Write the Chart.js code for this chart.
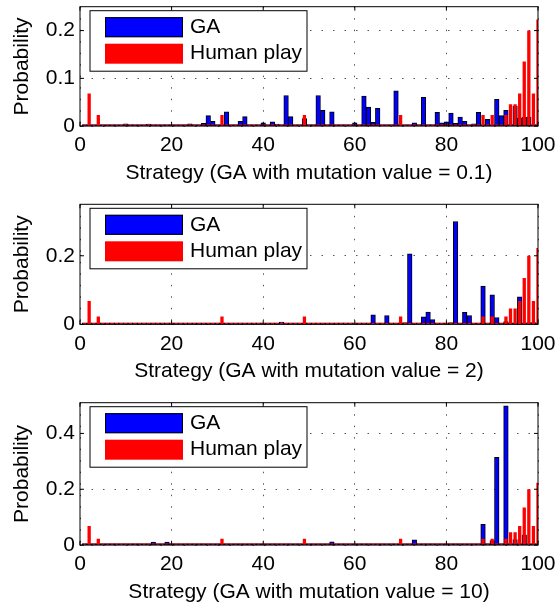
<!DOCTYPE html>
<html lang="en">
<head>
<meta charset="UTF-8">
<title>Strategy distributions: GA vs human play</title>
<script src="https://cdn.jsdelivr.net/npm/chart.js"></script>
<style>
  html, body { margin: 0; padding: 0; background: #fff; }
  #wrap { position: relative; width: 555px; height: 605px; overflow: hidden; }
  #wrap canvas { position: absolute; left: 0; }
</style>
</head>
<body>
<div id="wrap">
  <canvas id="chart01" width="555" height="186" style="top:0px"></canvas>
  <canvas id="chart2" width="555" height="198" style="top:186px"></canvas>
  <canvas id="chart10" width="555" height="221" style="top:384px"></canvas>
</div>
<script>
// strategies 1..100 along x
const strategies = Array.from({ length: 100 }, (_, i) => i + 1);
const xTicks = [0, 20, 40, 60, 80, 100];

// human play (same in every plot)
const humanStrat = [2, 4, 31, 49, 70, 88, 90, 93, 94, 95, 96, 97, 98, 99, 100];
const humanProb  = [0.068, 0.023, 0.023, 0.023, 0.023, 0.023, 0.023, 0.023, 0.046, 0.046, 0.068, 0.135, 0.2, 0.068, 0.223];

// GA, mutation value = 0.1
const ga01Strat = [10, 11, 15, 16, 20, 22, 24, 27, 28, 29, 32, 34, 35, 36, 40, 42, 43, 45, 46, 49,
                   52, 53, 55, 60, 62, 63, 64, 65, 69, 73, 75, 78, 79, 80, 81, 82, 83, 84, 86, 87,
                   89, 91, 92, 93, 95, 96, 97, 98];
const ga01Prob  = [0.005, 0.002, 0.004, 0.002, 0.003, 0.003, 0.005, 0.006, 0.022, 0.01, 0.03, 0.003, 0.01, 0.02, 0.007, 0.009, 0.004, 0.064, 0.02, 0.016,
                   0.064, 0.033, 0.03, 0.007, 0.063, 0.04, 0.008, 0.037, 0.074, 0.007, 0.06, 0.029, 0.007, 0.009, 0.027, 0.006, 0.019, 0.01, 0.005, 0.029,
                   0.014, 0.056, 0.022, 0.033, 0.042, 0.017, 0.019, 0.019];
const ga01YTicks = [0, 0.1, 0.2];

// GA, mutation value = 2
const ga2Strat = [34, 36, 44, 58, 64, 67, 71, 72, 75, 76, 77, 81, 82, 84, 85, 88, 90, 91, 93, 96, 98, 99];
const ga2Prob  = [0.003, 0.003, 0.007, 0.003, 0.028, 0.026, 0.005, 0.206, 0.022, 0.036, 0.014, 0.005, 0.3, 0.035, 0.026, 0.112, 0.086, 0.02, 0.008, 0.08, 0.005, 0.005];
const ga2YTicks = [0, 0.2];

// GA, mutation value = 10
const ga10Strat = [16, 19, 55, 73, 78, 85, 88, 90, 91, 93, 95, 97];
const ga10Prob  = [0.011, 0.011, 0.012, 0.019, 0.005, 0.004, 0.074, 0.016, 0.314, 0.499, 0.02, 0.037];
const ga10YTicks = [0, 0.2, 0.4];

const fontFamily = '"Liberation Sans", Arial, Helvetica, sans-serif';
Chart.defaults.font.family = fontFamily;
Chart.defaults.font.size = 21;
Chart.defaults.color = '#000';

function series(strats, probs) {
  return strategies.map(s => {
    const i = strats.indexOf(s);
    return { x: s, y: i < 0 ? 0 : probs[i] };
  });
}

// box round the axes plus inward tick marks on all four sides
const axesBox = {
  id: 'axesBox',
  afterDatasetsDraw(chart) {
    const { ctx, chartArea: a, scales: { x, y } } = chart;
    const tl = 4;
    ctx.save();
    ctx.strokeStyle = '#000';
    ctx.lineWidth = 1;
    ctx.beginPath();
    x.ticks.forEach(t => {
      const px = x.getPixelForValue(t.value);
      ctx.moveTo(px, a.bottom); ctx.lineTo(px, a.bottom - tl);
      ctx.moveTo(px, a.top); ctx.lineTo(px, a.top + tl);
    });
    y.ticks.forEach(t => {
      const py = y.getPixelForValue(t.value);
      ctx.moveTo(a.left, py); ctx.lineTo(a.left + tl, py);
      ctx.moveTo(a.right, py); ctx.lineTo(a.right - tl, py);
    });
    ctx.stroke();
    ctx.strokeRect(a.left, a.top, a.right - a.left, a.bottom - a.top);
    ctx.restore();
  }
};

// legend box in the upper left corner of the axes
const legendBox = {
  id: 'legendBox',
  afterDraw(chart) {
    const { ctx, chartArea: a } = chart;
    const bx = a.left + 10, by = a.top + 4, bw = 217, bh = 60.5;
    ctx.save();
    ctx.fillStyle = '#fff';
    ctx.fillRect(bx, by, bw, bh);
    ctx.strokeStyle = '#000';
    ctx.lineWidth = 1;
    ctx.strokeRect(bx, by, bw, bh);
    ctx.font = '21px ' + fontFamily;
    ctx.textBaseline = 'middle';
    chart.data.datasets.forEach((ds, i) => {
      const sy = by + 6.5 + i * 26.5;
      ctx.fillStyle = ds.backgroundColor;
      ctx.fillRect(bx + 15, sy, 78, 20);
      if (ds.borderWidth) {
        ctx.strokeStyle = ds.borderColor;
        ctx.strokeRect(bx + 15.5, sy + 0.5, 77, 19);
      }
      ctx.fillStyle = '#000';
      ctx.fillText(ds.label, bx + 100, sy + 10);
    });
    ctx.restore();
  }
};

function makeChart(id, gaStrat, gaProb, yMax, yTicks, xTitle, topPad, xAxisH) {
  new Chart(document.getElementById(id), {
    type: 'bar',
    data: {
      datasets: [{
        label: 'GA',
        data: series(gaStrat, gaProb),
        backgroundColor: '#0000ff',
        borderColor: '#000',
        borderWidth: 1,
        borderSkipped: false,
        barPercentage: 1,
        categoryPercentage: 1,
        grouped: false,
        minBarLength: 1.5,
        order: 1
      }, {
        label: 'Human play',
        data: series(humanStrat, humanProb),
        backgroundColor: '#ff0000',
        borderWidth: 0,
        barPercentage: 0.72,
        categoryPercentage: 1,
        grouped: false,
        minBarLength: 1.5,
        order: 0
      }]
    },
    options: {
      responsive: false,
      animation: false,
      layout: { padding: { left: 0, right: 17, top: topPad, bottom: 0 } },
      plugins: { legend: { display: false }, tooltip: { enabled: false } },
      scales: {
        x: {
          type: 'linear',
          min: 0,
          max: 100,
          offset: false,
          afterBuildTicks: s => { s.ticks = xTicks.map(v => ({ value: v })); },
          afterFit: s => { s.height = xAxisH; s.paddingLeft = 0; s.paddingRight = 0; },
          ticks: { padding: 7, maxRotation: 0, autoSkip: false },
          grid: { color: '#555', lineWidth: 1, drawTicks: false, offset: false },
          border: { display: false, dash: [1.5, 10] },
          title: { display: true, text: xTitle, padding: 0 }
        },
        y: {
          min: 0,
          max: yMax,
          afterBuildTicks: s => { s.ticks = yTicks.map(v => ({ value: v })); },
          afterFit: s => { s.width = 80; s.paddingTop = 0; s.paddingBottom = 0; },
          ticks: { padding: 5, callback: v => String(v) },
          grid: { color: '#555', lineWidth: 1, drawTicks: false },
          border: { display: false, dash: [1.5, 10] },
          title: { display: true, text: 'Probability', padding: { top: 9.4, bottom: 0 } }
        }
      }
    },
    plugins: [axesBox, legendBox]
  });
}

makeChart('chart01', ga01Strat, ga01Prob, 0.25, ga01YTicks, 'Strategy (GA with mutation value = 0.1)', 6.7, 59.9);
makeChart('chart2', ga2Strat, ga2Prob, 0.35, ga2YTicks, 'Strategy (GA with mutation value = 2)', 18.3, 59.6);
makeChart('chart10', ga10Strat, ga10Prob, 0.51, ga10YTicks, 'Strategy (GA with mutation value = 10)', 18.7, 59.9);
</script>
</body>
</html>
